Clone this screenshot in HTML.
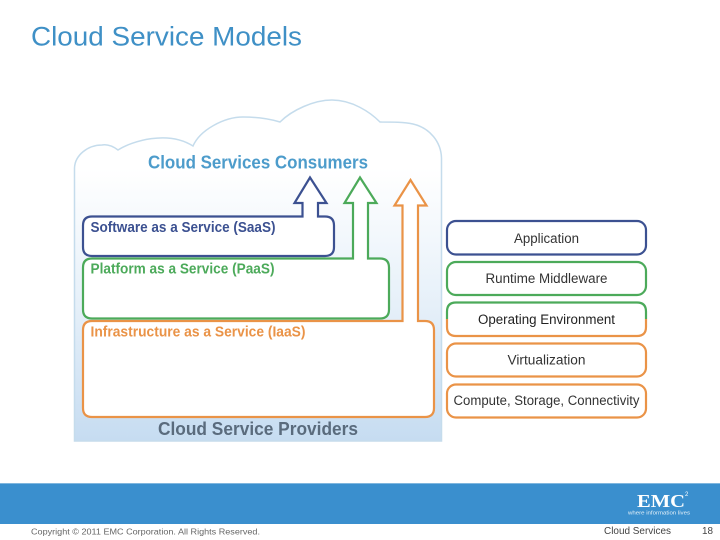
<!DOCTYPE html>
<html><head><meta charset="utf-8">
<style>
html,body{margin:0;padding:0;background:#fff}
svg{display:block;filter:blur(0.35px)}
text{font-family:"Liberation Sans",sans-serif}
</style></head>
<body>
<svg width="720" height="540" viewBox="0 0 720 540" xmlns="http://www.w3.org/2000/svg">
<defs>
<linearGradient id="g" x1="0" y1="0" x2="0" y2="1">
<stop offset="0" stop-color="#ffffff"/>
<stop offset="0.2" stop-color="#ffffff"/>
<stop offset="0.6" stop-color="#e6f0f9"/>
<stop offset="1" stop-color="#c6dcf1"/>
</linearGradient>
</defs>
<rect width="720" height="540" fill="#fff"/>
<text x="31" y="45.500" font-size="26.500" fill="#3f90c6" textLength="271" lengthAdjust="spacingAndGlyphs">Cloud Service Models</text>

<path d="M74.500 441V168C75 155 88 145 102 145C108 144 114 147 118 150C132 141 168 130 193 146C200 130 224 117 243 117C258 117 270 119 280 122C292 110 314 100 332 100C352 100 370 112 380 122C392 122 404 122 413 124C430 128 441 142 441.500 158V441Z" fill="url(#g)" stroke="#c5dcec" stroke-width="1.500"/>

<!-- IaaS -->
<path d="M402.500 321V205.500H394.500L410.500 180L426.500 205.500H418V321H425Q434 321 434 330V408Q434 417 425 417H92Q83 417 83 408V330Q83 321 92 321Z" fill="#fff" stroke="#ea9347" stroke-width="2.200"/>
<!-- PaaS -->
<path d="M353 258.500V203H344.500L360 177.500L376.500 203H368V258.500H380Q389 258.500 389 267.500V309.500Q389 318.500 380 318.500H92Q83 318.500 83 309.500V267.500Q83 258.500 92 258.500Z" fill="#fff" stroke="#4caa5a" stroke-width="2.200"/>
<!-- SaaS -->
<path d="M302.500 216.500V203H294.500L310 177.500L326.500 203H318V216.500H325Q334 216.500 334 225.500V247Q334 256 325 256H92Q83 256 83 247V225.500Q83 216.500 92 216.500Z" fill="#fff" stroke="#3c5191" stroke-width="2.200"/>

<text x="148" y="168.500" font-size="18" font-weight="bold" fill="#4d9ccb" textLength="220" lengthAdjust="spacingAndGlyphs">Cloud Services  Consumers</text>
<text x="90.500" y="232" font-size="14.500" font-weight="bold" fill="#3c5191" textLength="185" lengthAdjust="spacingAndGlyphs">Software as a Service (SaaS)</text>
<text x="90.500" y="273.500" font-size="14.500" font-weight="bold" fill="#4caa5a" textLength="184" lengthAdjust="spacingAndGlyphs">Platform as a Service (PaaS)</text>
<text x="90.500" y="336.500" font-size="14.500" font-weight="bold" fill="#ea9347" textLength="215" lengthAdjust="spacingAndGlyphs">Infrastructure as a Service (IaaS)</text>
<text x="158" y="435" font-size="18.500" font-weight="bold" fill="#5a6b7d" textLength="200" lengthAdjust="spacingAndGlyphs">Cloud Service Providers</text>

<!-- right stack -->
<rect x="447" y="221" width="199" height="33.500" rx="9" fill="#fff" stroke="#3c5191" stroke-width="2.200"/>
<rect x="447" y="262" width="199" height="33" rx="9" fill="#fff" stroke="#4caa5a" stroke-width="2.200"/>
<path d="M447 319V311.500Q447 302.500 456 302.500H637Q646 302.500 646 311.500V319" fill="#fff" stroke="#4caa5a" stroke-width="2.200"/>
<path d="M447 319V327Q447 336 456 336H637Q646 336 646 327V319" fill="#fff" stroke="#ea9347" stroke-width="2.200"/>
<rect x="447" y="343.500" width="199" height="33" rx="9" fill="#fff" stroke="#ea9347" stroke-width="2.200"/>
<rect x="447" y="384.500" width="199" height="33" rx="9" fill="#fff" stroke="#ea9347" stroke-width="2.200"/>

<g font-size="13.500" fill="#333">
<text x="514" y="243" textLength="65" lengthAdjust="spacingAndGlyphs">Application</text>
<text x="485.500" y="283" textLength="122" lengthAdjust="spacingAndGlyphs">Runtime Middleware</text>
<text x="478" y="324" textLength="137" lengthAdjust="spacingAndGlyphs" fill="#222">Operating Environment</text>
<text x="507.500" y="364.500" textLength="78" lengthAdjust="spacingAndGlyphs">Virtualization</text>
<text x="453.500" y="405" textLength="186" lengthAdjust="spacingAndGlyphs">Compute, Storage, Connectivity</text>
</g>

<!-- footer -->
<rect x="0" y="483" width="720" height="41" fill="#3a8fce"/>
<rect x="0" y="483" width="720" height="1" fill="#7fb6de"/>
<text x="637" y="507" font-size="18" font-weight="bold" fill="#fff" textLength="48" lengthAdjust="spacingAndGlyphs" style="font-family:'Liberation Serif',serif">EMC</text>
<text x="685" y="496" font-size="6" fill="#fff">2</text>
<text x="628" y="514.500" font-size="5.500" fill="#e4f0f8" textLength="62" lengthAdjust="spacingAndGlyphs">where information lives</text>
<text x="31" y="534.500" font-size="8.500" fill="#666" textLength="229" lengthAdjust="spacingAndGlyphs">Copyright © 2011 EMC Corporation. All Rights Reserved.</text>
<text x="604" y="534" font-size="10" fill="#444" textLength="67" lengthAdjust="spacingAndGlyphs">Cloud Services</text>
<text x="702" y="534" font-size="10" fill="#444" textLength="11" lengthAdjust="spacingAndGlyphs">18</text>
</svg>
</body></html>
